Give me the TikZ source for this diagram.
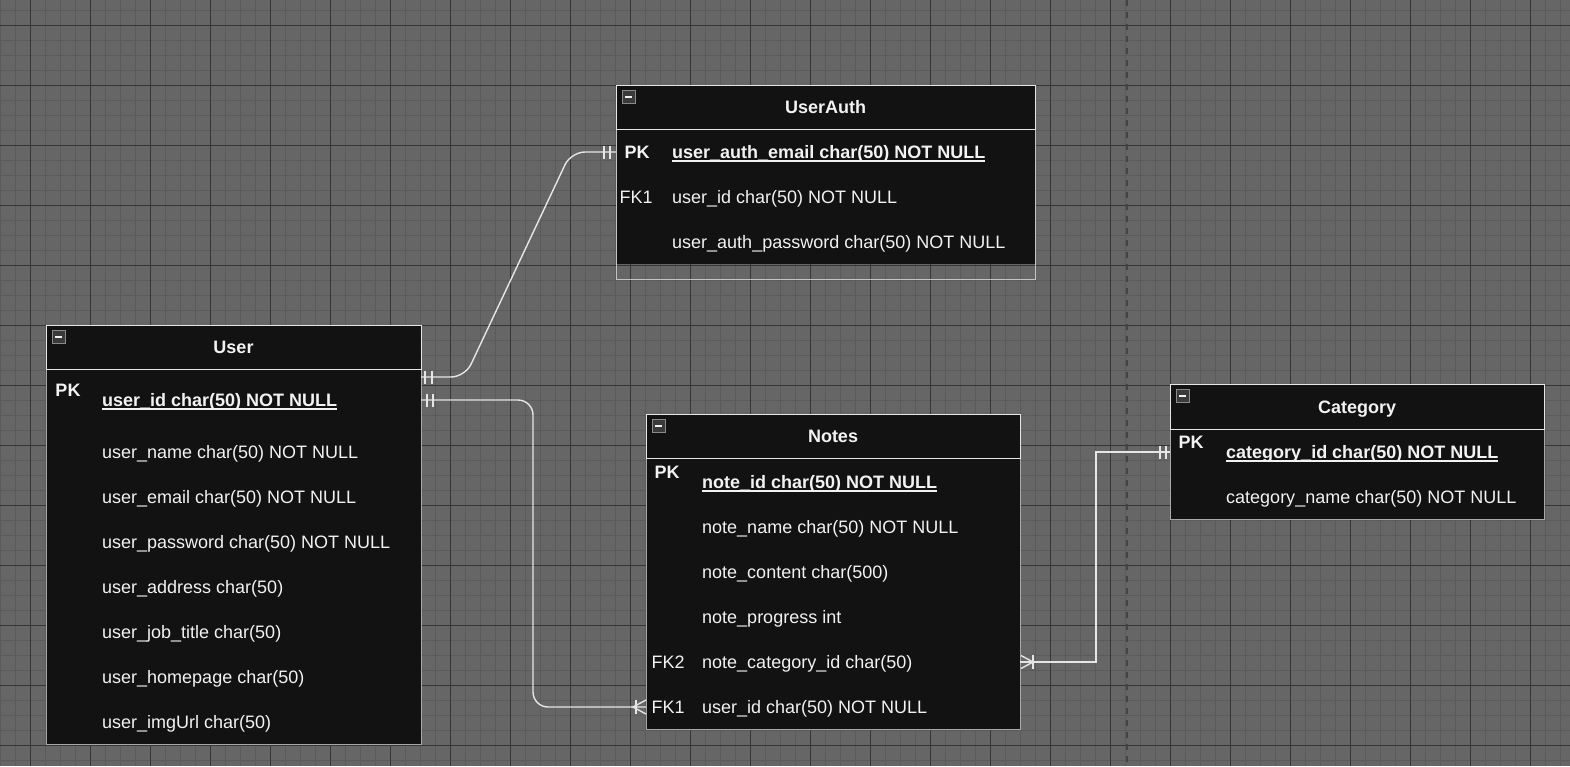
\documentclass[tikz,border=0pt]{standalone}
\usepackage{fontspec}
\setmainfont{Liberation Sans}
\usetikzlibrary{calc}
\definecolor{bg}{HTML}{666666}
\definecolor{gminor}{HTML}{5B5B5B}
\definecolor{gmajor}{HTML}{363636}
\definecolor{gdash}{HTML}{444444}
\definecolor{tfill}{HTML}{121212}
\definecolor{edge}{HTML}{E6E6E6}
\definecolor{bodyedge}{HTML}{A8A8A8}
\definecolor{ink}{HTML}{F2F2F2}
\definecolor{iconfill}{HTML}{3A3A3A}
\definecolor{iconedge}{HTML}{8A8A8A}
\newcommand\pkul[1]{\setbox0=\hbox{#1}\rlap{\rule[-3.2pt]{\wd0}{1.3pt}}\box0}
\newcommand\fsz{\fontsize{18}{22}\selectfont}
\begin{document}
\begin{tikzpicture}[x=1pt,y=-1pt,
  tbl/.style={draw=bodyedge, fill=tfill, line width=1pt, inner sep=0pt, outer sep=0pt, anchor=north west},
  hdr/.style={draw=edge, fill=tfill, line width=1pt, inner sep=0pt, outer sep=0pt, anchor=north west, minimum height=44pt, text height=13pt, text depth=0pt, text=ink, font=\fsz\bfseries},
  fld/.style={anchor=west, inner sep=0pt, text height=13pt, text depth=0pt, text=ink, font=\fsz},
  pkf/.style={fld, font=\fsz\bfseries},
  key/.style={fld, anchor=center, font=\fsz\bfseries},
  fkey/.style={fld, anchor=center},
  conn/.style={draw=edge, line width=1.4pt},
  minusicon/.pic={\draw[fill=iconfill, draw=iconedge, line width=1pt] (-6.5,-6.5) rectangle (6.5,6.5);
                  \draw[ink, line width=1.6pt] (-3.5,0) -- (3.5,0);}
]
\useasboundingbox (0,0) rectangle (1570,766);
% background grid
\fill[bg] (0,0) rectangle (1570,766);
\foreach \x in {0,15,...,1569} \draw[gminor, line width=1pt] (\x,0) -- (\x,766);
\foreach \y in {10,25,...,766} \draw[gminor, line width=1pt] (0,\y) -- (1570,\y);
\foreach \x in {30,90,...,1569} \draw[gmajor, line width=1pt] (\x,0) -- (\x,766);
\foreach \y in {25,85,...,766} \draw[gmajor, line width=1pt] (0,\y) -- (1570,\y);
\draw[gdash, line width=2pt, dash pattern=on 6pt off 6pt] (1126.5,0) -- (1126.5,766);

% ---------- User ----------
\node[tbl, minimum width=375pt, minimum height=419pt] (user) at (46,325) {};
\node[hdr, minimum width=375pt] (user-h) at (46,325) {User};
\pic at ($(user.north west)+(12.5,12)$) {minusicon};
\node[key]  (u-pk)  at (68,390) {PK};
\node[pkf]  (u-id)  at (102,400) {\pkul{user\_id char(50) NOT NULL}};
\node[fld]  (u-nm)  at (102,452) {user\_name char(50) NOT NULL};
\node[fld]  (u-em)  at (102,497) {user\_email char(50) NOT NULL};
\node[fld]  (u-pw)  at (102,542) {user\_password char(50) NOT NULL};
\node[fld]  (u-ad)  at (102,587) {user\_address char(50)};
\node[fld]  (u-jt)  at (102,632) {user\_job\_title char(50)};
\node[fld]  (u-hp)  at (102,677) {user\_homepage char(50)};
\node[fld]  (u-im)  at (102,722) {user\_imgUrl char(50)};

% ---------- UserAuth ----------
\fill[tfill] (616,129) rectangle (1035,264);
\node[tbl, fill=none, draw=edge!85!black, minimum width=419pt, minimum height=194pt] (userauth) at (616,85) {};
\node[hdr, minimum width=419pt] (userauth-h) at (616,85) {UserAuth};
\pic at ($(userauth.north west)+(12.5,12)$) {minusicon};
\node[key]  (ua-pk)    at (637,152) {PK};
\node[pkf]  (ua-email) at (672,152) {\pkul{user\_auth\_email char(50) NOT NULL}};
\node[fkey] (ua-fk)    at (636,197) {FK1};
\node[fld]  (ua-uid)   at (672,197) {user\_id char(50) NOT NULL};
\node[fld]  (ua-pw)    at (672,242) {user\_auth\_password char(50) NOT NULL};

% ---------- Notes ----------
\node[tbl, minimum width=374pt, minimum height=315pt] (notes) at (646,414) {};
\node[hdr, minimum width=374pt] (notes-h) at (646,414) {Notes};
\pic at ($(notes.north west)+(12.5,12)$) {minusicon};
\node[key]  (n-pk)   at (667,472) {PK};
\node[pkf]  (n-id)   at (702,482) {\pkul{note\_id char(50) NOT NULL}};
\node[fld]  (n-nm)   at (702,527) {note\_name char(50) NOT NULL};
\node[fld]  (n-ct)   at (702,572) {note\_content char(500)};
\node[fld]  (n-pr)   at (702,617) {note\_progress int};
\node[fkey] (n-fk2)  at (668,662) {FK2};
\node[fld]  (n-cat)  at (702,662) {note\_category\_id char(50)};
\node[fkey] (n-fk1)  at (668,707) {FK1};
\node[fld]  (n-uid)  at (702,707) {user\_id char(50) NOT NULL};

% ---------- Category ----------
\node[tbl, minimum width=374pt, minimum height=135pt] (category) at (1170,384) {};
\node[hdr, minimum width=374pt, minimum height=45pt] (category-h) at (1170,384) {Category};
\pic at ($(category.north west)+(12.5,12)$) {minusicon};
\node[key]  (c-pk)  at (1191,442) {PK};
\node[pkf]  (c-id)  at (1226,452) {\pkul{category\_id char(50) NOT NULL}};
\node[fld]  (c-nm)  at (1226,497) {category\_name char(50) NOT NULL};

% ---------- connectors ----------
\coordinate (e1) at ($(user.east |- u-id)+(0,-23)$);
\coordinate (e2) at (userauth.west |- ua-email);
\coordinate (e3) at (user.east |- u-id);
\coordinate (e4) at (notes.west |- n-uid);
\coordinate (e5) at (notes.east |- n-cat);
\coordinate (e6) at (category.west |- c-id);

% User -- UserAuth (one to one)
\draw[conn, rounded corners=14pt] (e1) -- ++(44,0) -- ($(e2)+(-45,0)$) -- (e2);
\draw[conn] ($(e1)+(4,-6.5)$) -- ++(0,13) ($(e1)+(11,-6.5)$) -- ++(0,13);
\draw[conn] ($(e2)+(-12,-6.5)$) -- ++(0,13) ($(e2)+(-6,-6.5)$) -- ++(0,13);

% User -- Notes (one to many)
\draw[conn, rounded corners=15pt] (e3) -| ($(e4)+(-113,0)$) -- (e4);
\draw[conn] ($(e3)+(6,-6.5)$) -- ++(0,13) ($(e3)+(12,-6.5)$) -- ++(0,13);
\draw[conn] ($(e4)+(0,-7)$) -- ($(e4)+(-13,0)$) -- ($(e4)+(0,7)$);
\draw[conn] ($(e4)+(-10,-7)$) -- ++(0,14);

% Category -- Notes (one to many)
\draw[conn] (e5) -- ++(76,0) |- (e6);
\draw[conn] ($(e5)+(1,-6.5)$) -- ($(e5)+(13,0)$) -- ($(e5)+(1,6.5)$);
\draw[conn] ($(e5)+(13,-7)$) -- ++(0,14);
\draw[conn] ($(e6)+(-10,-6.5)$) -- ++(0,13) ($(e6)+(-4,-6.5)$) -- ++(0,13);
\end{tikzpicture}
\end{document}
